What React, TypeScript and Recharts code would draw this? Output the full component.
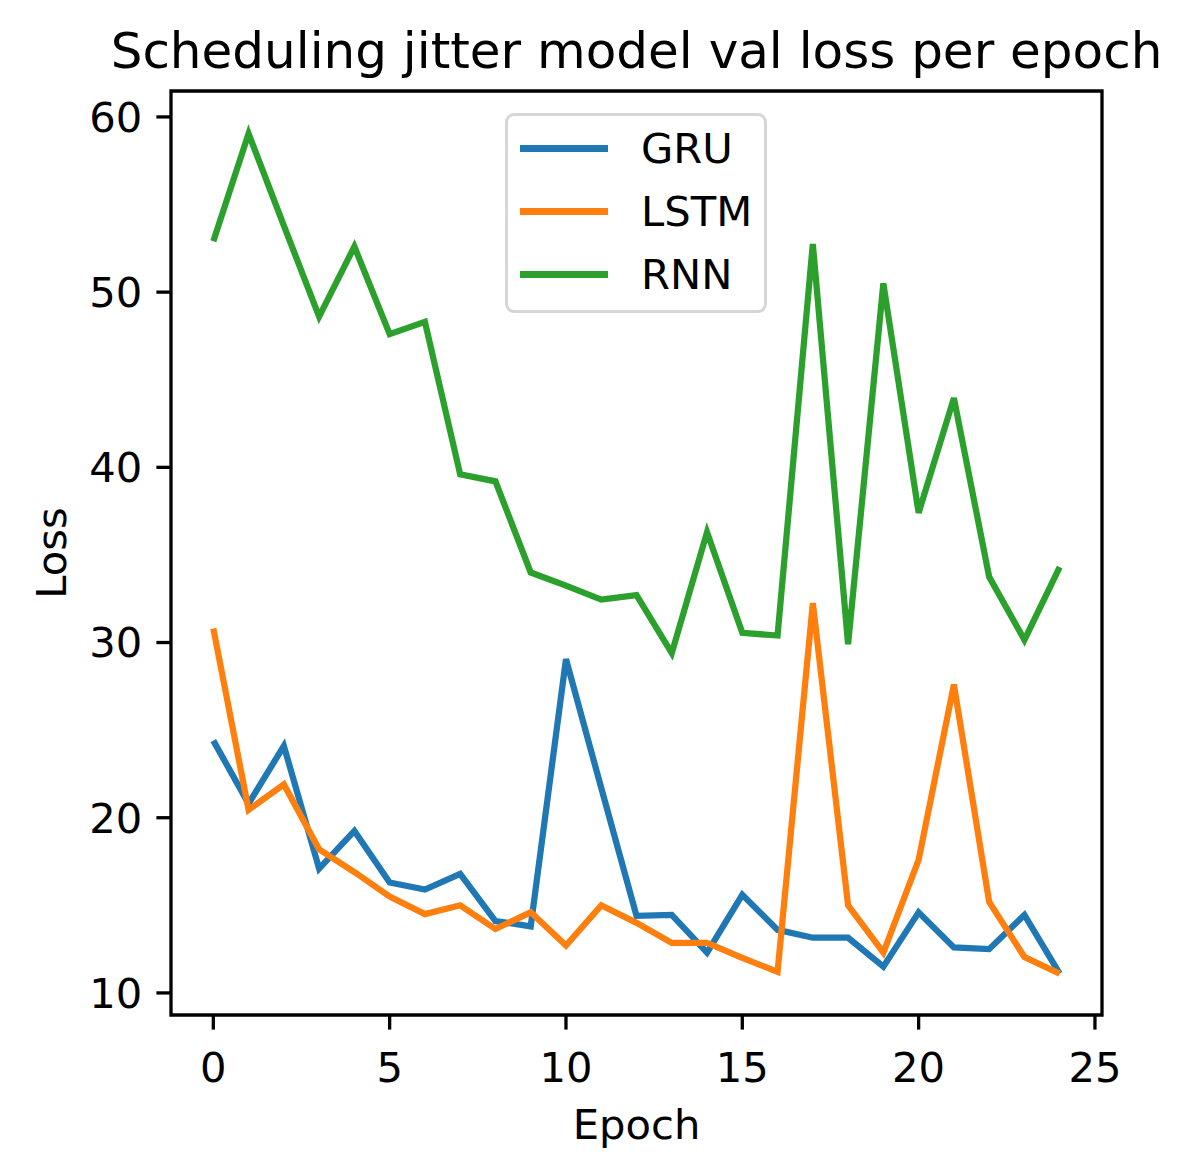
import React from "react";
import { LineChart, Line, XAxis, YAxis, ReferenceArea } from "recharts";

// ─── Data ────────────────────────────────────────────────
const EPOCHS = [
  0, 1, 2, 3, 4, 5, 6, 7, 8, 9, 10, 11, 12, 13, 14, 15, 16, 17, 18, 19, 20,
  21, 22, 23, 24,
];

const GRU = [
  24.4, 20.8, 24.1, 17.1, 19.25, 16.3, 15.9, 16.8, 14.1, 13.8, 29.05, 21.7,
  14.4, 14.45, 12.3, 15.6, 13.6, 13.15, 13.15, 11.5, 14.6, 12.6, 12.5, 14.45,
  11.1,
];

const LSTM = [
  30.8, 20.45, 21.9, 18.2, 16.9, 15.5, 14.5, 15.0, 13.65, 14.6, 12.7, 15.0,
  14.0, 12.85, 12.85, 12.0, 11.2, 32.25, 15.0, 12.3, 17.6, 27.6, 15.2, 12.05,
  11.1,
];

const RNN = [
  52.9, 59.05, 53.8, 48.6, 52.6, 47.6, 48.3, 39.6, 39.2, 34.0, 33.25, 32.45,
  32.7, 29.4, 36.3, 30.55, 30.4, 52.75, 29.9, 50.5, 37.4, 43.95, 33.75, 30.15,
  34.3,
];

const X_TICKS = [0, 5, 10, 15, 20, 25];
const Y_TICKS = [10, 20, 30, 40, 50, 60];
const X_DOMAIN: [number, number] = [-1.2, 25.2];
const Y_DOMAIN: [number, number] = [8.74, 61.48];

const SERIES = [
  { key: "GRU", color: "#1f77b4" },
  { key: "LSTM", color: "#ff7f0e" },
  { key: "RNN", color: "#2ca02c" },
];

const chartData = EPOCHS.map((epoch, i) => ({
  epoch,
  GRU: GRU[i],
  LSTM: LSTM[i],
  RNN: RNN[i],
}));

// ─── Layout ──────────────────────────────────────────────
const W = 1192;
const H = 1176;
const FONT = "'DejaVu Sans', sans-serif";
const TICK_FONT = 41.7;
const SPINE = 3.3;

function MplLegend() {
  return (
    <div
      style={{
        position: "absolute",
        left: 505,
        top: 113,
        width: 262,
        border: "3px solid #d6d6d6",
        borderRadius: 9,
        background: "#fff",
        padding: "1px 0 4px 12px",
        fontFamily: FONT,
        fontSize: TICK_FONT,
        color: "#000",
        boxSizing: "border-box",
      }}
    >
      {SERIES.map((s) => (
        <div
          key={s.key}
          style={{ display: "flex", alignItems: "center", height: 63 }}
        >
          <div
            style={{
              flexShrink: 0,
              width: 88,
              height: 6.25,
              background: s.color,
              marginRight: 33,
            }}
          />
          <span style={{ whiteSpace: "nowrap" }}>{s.key}</span>
        </div>
      ))}
    </div>
  );
}

// ─── Component ───────────────────────────────────────────
export default function App() {
  return (
    <div
      style={{
        position: "absolute",
        left: 0,
        top: 0,
        width: W,
        height: H,
        background: "#fff",
        fontFamily: FONT,
      }}
    >
      <LineChart
        width={W}
        height={H}
        data={chartData}
        margin={{ top: 91, right: 90, bottom: 61, left: 41 }}
        style={{ position: "absolute", left: 0, top: 0 }}
      >
        <XAxis
          dataKey="epoch"
          type="number"
          domain={X_DOMAIN}
          ticks={X_TICKS}
          allowDataOverflow
          height={100}
          tickSize={14.6}
          tickMargin={23}
          axisLine={false}
          tickLine={{ stroke: "#000", strokeWidth: SPINE }}
          tick={{ fontSize: TICK_FONT, fill: "#000", fontFamily: FONT }}
          label={{
            value: "Epoch",
            position: "insideBottom",
            offset: -24,
            fontSize: TICK_FONT,
            fill: "#000",
            fontFamily: FONT,
          }}
        />
        <YAxis
          type="number"
          domain={Y_DOMAIN}
          ticks={Y_TICKS}
          allowDataOverflow
          width={130}
          tickSize={14.6}
          tickMargin={14}
          axisLine={false}
          tickLine={{ stroke: "#000", strokeWidth: SPINE }}
          tick={{ fontSize: TICK_FONT, fill: "#000", fontFamily: FONT }}
          label={{
            value: "Loss",
            angle: -90,
            position: "insideLeft",
            offset: 10,
            fontSize: TICK_FONT,
            fill: "#000",
            fontFamily: FONT,
            style: { textAnchor: "middle" },
          }}
        />
        {SERIES.map((s) => (
          <Line
            key={s.key}
            type="linear"
            dataKey={s.key}
            stroke={s.color}
            strokeWidth={6.25}
            dot={false}
            activeDot={false}
            isAnimationActive={false}
          />
        ))}
        <ReferenceArea
          x1={X_DOMAIN[0]}
          x2={X_DOMAIN[1]}
          y1={Y_DOMAIN[0]}
          y2={Y_DOMAIN[1]}
          fill="none"
          fillOpacity={0}
          stroke="#000"
          strokeWidth={SPINE}
          ifOverflow="visible"
        />
      </LineChart>
      <div
        style={{
          position: "absolute",
          left: 636.5,
          top: 22,
          transform: "translateX(-50%)",
          fontSize: 50,
          whiteSpace: "nowrap",
          color: "#000",
        }}
      >
        Scheduling jitter model val loss per epoch
      </div>
      <MplLegend />
    </div>
  );
}
